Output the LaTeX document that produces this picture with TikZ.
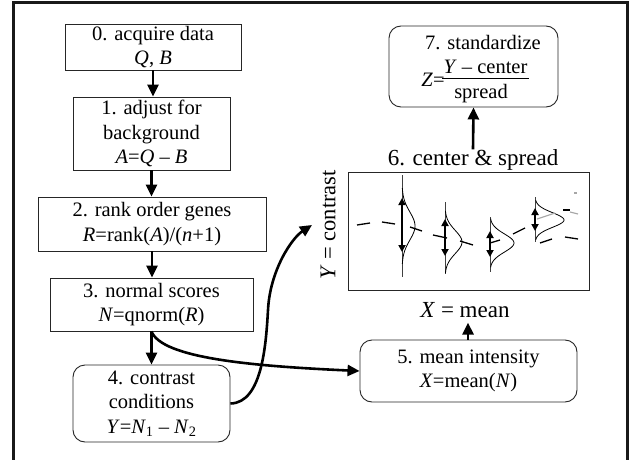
\documentclass[tikz,border=0pt]{standalone}
\usepackage{fontspec}
\setmainfont{Liberation Serif}
\usetikzlibrary{arrows.meta}
\begin{document}
\begin{tikzpicture}[x=1pt,y=-1pt,
  box/.style={draw=black!85, line width=0.9pt, align=center, inner sep=0pt, font=\fontsize{20.5}{24.5}\selectfont},
  rbox/.style={box, rounded corners=12pt},
  txt/.style={inner sep=0pt, font=\fontsize{20.5}{24.5}\selectfont},
  arr/.style={line width=2.6pt, -{Triangle[length=12pt,width=11pt]}},
  big/.style={font=\fontsize{23}{27}\selectfont, inner sep=0pt},
  frame/.style={line width=3pt, draw=black!90},
  dens/.style={line width=0.8pt},
  vln/.style={line width=0.9pt, draw=black!75},
  darr/.style={line width=2.4pt, {Triangle[length=7pt,width=7pt]}-{Triangle[length=7pt,width=7pt]}},
  dsh/.style={line width=1.3pt},
  gdsh/.style={line width=1.1pt, draw=black!35},
]
\useasboundingbox (0,0) rectangle (629,460);
\fill[white] (0,0) rectangle (629,460);
\draw[frame] (13,462) -- (13,2.5) -- (627,2.5) -- (627,462);

% left column
\node[box, minimum width=176pt, minimum height=46pt] (b0) at (153,47) {0. acquire data\\\textit{Q}, \textit{B}};
\node[box, minimum width=157pt, minimum height=73pt] (b1) at (151.5,133.5) {1. adjust for\\background\\\textit{A}=\textit{Q} – \textit{B}};
\node[box, minimum width=228pt, minimum height=54pt] (b2) at (152,224) {2. rank order genes\\\textit{R}=rank(\textit{A})/(\textit{n}+1)};
\node[box, minimum width=203pt, minimum height=53pt] (b3) at (151.5,304.5) {3. normal scores\\\textit{N}=qnorm(\textit{R})};
\node[rbox, minimum width=157pt, minimum height=77pt] (b4) at (151.5,403.5) {4. contrast\\conditions\\\textit{Y}=\textit{N}\textsubscript{1} – \textit{N}\textsubscript{2}};

% right column
\node[rbox, minimum width=217pt, minimum height=62pt] (b5) at (468.5,371) {5. mean intensity\\\textit{X}=mean(\textit{N})};
\node[rbox, minimum width=169pt, minimum height=81pt] (b7) at (473.5,66.5) {};
\node[txt] (b7t) at (483,43) {7. standardize};
\node[txt] (b7z) at (433,80) {\textit{Z}=};
\node[txt] (b7n) at (485.5,67) {\textit{Y} – center};
\node[txt] (b7d) at (481,94) {spread};
\draw[line width=0.9pt] ([xshift=-1pt,yshift=-4pt]b7n.south west) -- ([xshift=1pt,yshift=-4pt]b7n.south east);
\node[draw=black!85, line width=0.9pt, minimum width=241pt, minimum height=118pt, inner sep=0pt] (p6) at (468.5,231) {};
\node[big] (t6) at (473,160) {6. center \& spread};
\node[big] (xl) at (465,310) {\textit{X} = mean};
\node[big, font=\fontsize{22.5}{27}\selectfont, rotate=90] (yl) at (328,225) {\textit{Y} = contrast};
\coordinate (ytip) at (312,225);

% plot contents
\foreach \xo/\yc/\sg/\hh/\lt/\lb/\at/\ab in
  {402/226/14/13/175/277/198/252,
   445/242/11.5/17/202/274/219/256,
   490/243/9/24/217/272/231/257,
   535/220/7.3/29/197/242/208/231}{
  \draw[vln] (\xo,\lt) -- (\xo,\lb);
  \draw[dens] plot[domain=-2.7:2.7, samples=50, smooth] ({\xo + \hh*exp(-0.5*\x*\x)}, {\yc + \sg*\x});
  \draw[darr] (\xo,\at) -- (\xo,\ab);
}
\draw[dsh] (357,225) -- (370,223);
\draw[dsh] (382,222) -- (395,224);
\draw[dsh] (410,227) -- (422,231);
\draw[dsh] (433,235) -- (447,238);
\draw[dsh] (460,241) -- (473,245);
\draw[dsh] (490,243) -- (500,240);
\draw[dsh] (513,234) -- (525,228);
\draw[gdsh] (537,219) -- (555,213);
\draw[dsh] (563,210) -- (570,210);
\draw[gdsh] (570,212) -- (578,214);
\draw[gdsh] (574,193) -- (577,193);
\draw[dsh] (540,243) -- (552,239);
\draw[dsh] (565,237) -- (578,239);

% connectors
\draw[arr] (b0.south) -- (b0.south |- b1.north);
\draw[arr] (b1.south) -- (b1.south |- b2.north);
\draw[arr] (b2.south) -- (b2.south |- b3.north);
\draw[arr] (b3.south) -- (b3.south |- b4.north);
\draw[arr] (b4.east) .. controls (262,403) and (266,345) .. (268,310) .. controls (270,270) and (292,238) .. (ytip);
\draw[arr] (b3.south) .. controls (162,358) and (250,366) .. (b5.west);
\draw[arr] (b5.north -| xl.south) ++(3,0) -- ++(0,-17);
\draw[arr] (t6.north) -- (b7.south);
\end{tikzpicture}
\end{document}
